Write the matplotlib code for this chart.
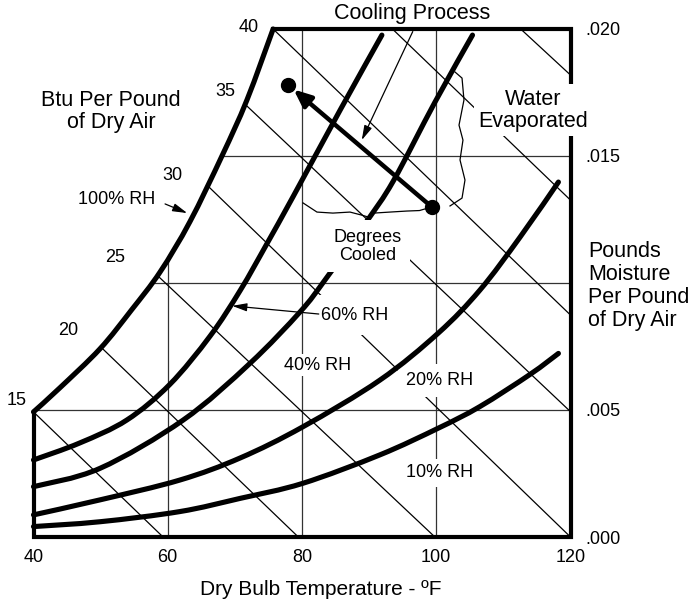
import matplotlib
matplotlib.use("Agg")
import matplotlib.pyplot as plt
import numpy as np
from matplotlib.path import Path
from matplotlib.patches import PathPatch

plt.rcParams['font.family'] = ['Liberation Sans', 'DejaVu Sans']

# ---------------- values ----------------
# dry bulb temperature (F) / humidity ratio (lb moisture per lb dry air)
rh100_T = [40.0, 43.9, 49.9, 54.6, 58.85, 63.3, 68.1, 71.8, 75.7]
rh100_W = [0.00492, 0.00586, 0.00740, 0.00893, 0.01042, 0.01240, 0.01500, 0.01719, 0.01998]

rh60_T = [40.0, 46.9, 53.9, 60.3, 66.3, 70.8, 74.7, 78.7, 85.7, 91.9]
rh60_W = [0.00303, 0.0037, 0.0046, 0.0060, 0.0079, 0.0097, 0.0115, 0.0134, 0.0168, 0.01974]

rh40_T = [40.0, 49.9, 62.3, 72.25, 79.7, 83.4, 89.6, 93.6, 99.8, 105.4]
rh40_W = [0.00198, 0.0027, 0.0046, 0.00683, 0.00885, 0.0101, 0.0124, 0.0140, 0.0171, 0.01974]

rh20_T = [40.0, 49.9, 61.8, 70.8, 80.1, 91.6, 100.3, 106.5, 112.5, 118.2]
rh20_W = [0.00087, 0.00146, 0.00224, 0.00311, 0.00433, 0.00617, 0.00802, 0.00971, 0.0118, 0.01396]

rh10_T = [40.0, 49.9, 61.8, 70.8, 80.1, 91.6, 100.3, 106.5, 114.0, 118.2]
rh10_W = [0.00041, 0.0006, 0.0010, 0.00152, 0.00211, 0.00323, 0.00428, 0.00513, 0.0064, 0.00722]

# constant enthalpy lines (Btu per pound of dry air)
enthalpy_values = [15, 20, 25, 30, 35, 40, 45, 50]
enthalpy_start_T = [40.0, 50.0, 58.4, 66.2, 71.6, 75.7, 93.4, 112.5]
enthalpy_start_W = [0.00492, 0.00748, 0.01030, 0.01375, 0.01700, 0.01998, 0.0200, 0.0200]
enthalpy_end_T = [59.3, 79.45, 99.8, 120.0, 120.0, 120.0, 120.0, 120.0]
enthalpy_end_W = [0.0, 0.0, 0.0, 0.0, 0.00493, 0.00873, 0.01325, 0.01817]
labeled_enthalpy = [15, 20, 25, 30, 35, 40]

x_ticks = [40, 60, 80, 100, 120]
y_ticks = [0.000, 0.005, 0.015, 0.020]
y_tick_labels = ['.000', '.005', '.015', '.020']
grid_T = [60, 80, 100]
grid_W = [0.005, 0.010, 0.015]

# evaporative cooling process: start state -> end state
process_T = [99.3, 77.96]
process_W = [0.01299, 0.01778]

# hand-drawn braces
water_brace_T = [102.79, 103.84, 104.13, 103.39, 103.98, 103.54, 104.28, 103.84, 102.05]
water_brace_W = [0.01829, 0.01805, 0.01719, 0.0162, 0.01561, 0.01483, 0.01404, 0.01333, 0.01302]
cooled_brace_T = [80.15, 82.23, 84.6, 87.15, 88.9, 89.8, 90.7, 93.1, 95.6, 97.5, 98.8]
cooled_brace_W = [0.01314, 0.01278, 0.01274, 0.01278, 0.01266, 0.01259, 0.01274, 0.01278,
                  0.01282, 0.01284, 0.01294]


def smooth_segments(T, W):
    """Catmull-Rom style cubic Bezier segments through the read points."""
    pts = np.column_stack([T, W]).astype(float)
    n = len(pts)
    verts, codes = [], []
    for i in range(n - 1):
        p0 = pts[i - 1] if i > 0 else pts[i]
        p1, p2 = pts[i], pts[i + 1]
        p3 = pts[i + 2] if i + 2 < n else pts[i + 1]
        verts += [p1 + (p2 - p0) / 6.0, p2 - (p3 - p1) / 6.0, p2]
        codes += [Path.CURVE4] * 3
    return verts, codes


def smooth_path(T, W):
    v, c = smooth_segments(T, W)
    return Path([(T[0], W[0])] + v, [Path.MOVETO] + c)


# ---------------- figure ----------------
W_PX, H_PX = 696, 604
fig = plt.figure(figsize=(W_PX / 100, H_PX / 100), dpi=100)
ax = fig.add_axes([33.5 / W_PX, 67 / H_PX, 537 / W_PX, 508.5 / H_PX])
ax.set_xlim(40, 120)
ax.set_ylim(0, 0.020)
for s in ax.spines.values():
    s.set_visible(False)

BIG = 15.5
SMALL = 13

# chart region (right of the saturation curve) used for clipping
sv, sc = smooth_segments(rh100_T, rh100_W)
clip_verts = [(rh100_T[0], 0.0), (rh100_T[0], rh100_W[0])] + sv + [(120, 0.020), (120, 0.0), (0, 0)]
clip_codes = [Path.MOVETO, Path.LINETO] + sc + [Path.LINETO, Path.LINETO, Path.CLOSEPOLY]
clip_patch = PathPatch(Path(clip_verts, clip_codes), transform=ax.transData,
                       facecolor='none', edgecolor='none')
ax.add_patch(clip_patch)

# grid lines
for t in grid_T:
    ln, = ax.plot([t, t], [0, 0.020], color='#333333', lw=0.9, zorder=1)
    ln.set_clip_path(clip_patch)
for w in grid_W:
    ln, = ax.plot([40, 120], [w, w], color='#333333', lw=0.9, zorder=1)
    ln.set_clip_path(clip_patch)

# enthalpy lines
for st, sw, et, ew in zip(enthalpy_start_T, enthalpy_start_W, enthalpy_end_T, enthalpy_end_W):
    ln, = ax.plot([st, et], [sw, ew], color='black', lw=0.9, zorder=2)
    ln.set_clip_path(clip_patch)

# enthalpy labels (offsets in points from the start of each line)
label_offsets = [(-12.5, 8.5), (-23, 11.5), (-30, 12.5), (-26.5, 8.5), (-14.5, 9.5), (-17.5, 1)]
for h, off in zip(labeled_enthalpy, label_offsets):
    i = enthalpy_values.index(h)
    ax.annotate(str(h), xy=(enthalpy_start_T[i], enthalpy_start_W[i]), xytext=off,
                textcoords='offset points', ha='center', va='center', fontsize=SMALL,
                annotation_clip=False)

# frame
ax.plot([rh100_T[0], rh100_T[0], 120, 120, rh100_T[-1]],
        [rh100_W[0], 0, 0, 0.020, 0.020], color='black', lw=3.0,
        solid_joinstyle='miter', zorder=3, clip_on=False)

# RH curves
for T, Wv in [(rh100_T, rh100_W), (rh60_T, rh60_W), (rh40_T, rh40_W),
              (rh20_T, rh20_W), (rh10_T, rh10_W)]:
    ax.add_patch(PathPatch(smooth_path(T, Wv), facecolor='none', edgecolor='black', lw=3.7,
                           capstyle='round', joinstyle='round', zorder=5.5, clip_on=False))

# text labels with white backgrounds (they interrupt thin lines)
def boxed(x, y, s, size, pad, z=5, **kw):
    ax.text(x, y, s, fontsize=size, ha=kw.pop('ha', 'center'), va=kw.pop('va', 'center'),
            bbox=dict(boxstyle='square,pad=%g' % pad, facecolor='white', edgecolor='none'),
            zorder=z, clip_on=False, **kw)

boxed(87.9, 0.00873, '60% RH', SMALL, 0.65)
boxed(82.3, 0.00676, '40% RH', SMALL, 0.12)
boxed(100.55, 0.00617, '20% RH', SMALL, 0.45)
boxed(100.55, 0.00252, '10% RH', SMALL, 0.3)
boxed(89.8, 0.01143, 'Degrees\nCooled', SMALL, 0.45, z=6, linespacing=1.13)
boxed(114.4, 0.01679, 'Water\nEvaporated', BIG, 0.2, linespacing=1.05)

ax.text(52.4, 0.01329, '100% RH', fontsize=SMALL, ha='center', va='center')
ax.text(51.55, 0.01672, 'Btu Per Pound\nof Dry Air', fontsize=BIG, ha='center', va='center',
        linespacing=1.05)
ax.text(96.4, 0.0206, 'Cooling Process', fontsize=BIG, ha='center', va='center', clip_on=False)
ax.text(122.6, 0.00988, 'Pounds\nMoisture\nPer Pound\nof Dry Air', fontsize=BIG,
        ha='left', va='center', linespacing=1.12, clip_on=False)
ax.text(82.83, -0.00208, 'Dry Bulb Temperature - \u00baF', fontsize=15, ha='center',
        va='center', clip_on=False)

# small pointer arrows
thin = dict(arrowstyle='-|>,head_length=0.8,head_width=0.22', color='black', lw=0.9,
            mutation_scale=11, shrinkA=0, shrinkB=0)
ax.annotate('', xy=(62.9, 0.01274), xytext=(59.6, 0.0131), arrowprops=thin,
            annotation_clip=False, zorder=7)
ax.annotate('', xy=(69.6, 0.00909), xytext=(82.5, 0.00877), arrowprops=thin,
            annotation_clip=False, zorder=7)
ax.annotate('', xy=(88.9, 0.01561), xytext=(96.5, 0.01988), arrowprops=thin,
            annotation_clip=False, zorder=7)

# braces
ax.plot(water_brace_T, water_brace_W, color='black', lw=0.9, zorder=7)
ax.plot(cooled_brace_T, cooled_brace_W, color='black', lw=0.9, zorder=7)

# cooling process line
ax.annotate('', xy=(process_T[1], process_W[1]), xytext=(process_T[0], process_W[0]),
            arrowprops=dict(arrowstyle='-|>,head_length=0.65,head_width=0.28', color='black',
                            lw=3.2, mutation_scale=16, shrinkA=0, shrinkB=5),
            zorder=8)
ax.plot(process_T, process_W, 'o', color='black', markersize=10, zorder=9)

# axis tick labels
ax.set_xticks(x_ticks, [str(v) for v in x_ticks])
ax.yaxis.tick_right()
ax.set_yticks(y_ticks, y_tick_labels)
ax.tick_params(axis='x', length=0, pad=9, labelsize=SMALL)
ax.tick_params(axis='y', length=0, pad=11, labelsize=SMALL)

fig.savefig('out.png', dpi=100)
